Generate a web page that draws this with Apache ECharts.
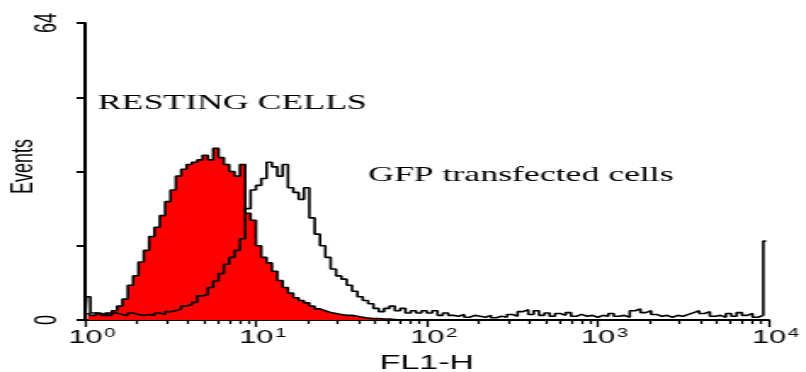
<!DOCTYPE html>
<html>
<head>
<meta charset="utf-8">
<script src="https://cdn.jsdelivr.net/npm/echarts@6/dist/echarts.min.js"></script>
<style>
  html, body { margin: 0; padding: 0; background: #fff; overflow: hidden; }
  #wrap { width: 806px; height: 372px; overflow: hidden; }
  /* the plot is laid out narrow and widened horizontally, like the cytometer printout */
  #chart { width: 474px; height: 372px; transform: scaleX(1.70042); transform-origin: 0 0; }
</style>
</head>
<body>
<div id="wrap"><div id="chart"></div></div>
<script>
// FL1-H histogram: 4 log decades, 32 bins per decade
const binsPerDecade = 32;

// events per bin, resting cells (filled red)
const restingCounts = [
  1.5, 1.0, 1.5, 1.0, 1.5, 2.0, 3.0, 4.5, 7.5, 9.5,
  12.5, 15.0, 18.0, 20.0, 22.5, 25.5, 28.0, 31.0, 32.5, 33.5,
  34.0, 34.5, 35.5, 34.5, 37.0, 35.0, 33.5, 32.0, 31.0, 33.5,
  23.0, 21.5, 16.0, 13.5, 12.3, 10.5, 8.5, 7.0, 5.8, 4.8,
  4.2, 3.7, 3.0, 2.4, 2.0, 1.6, 1.4, 1.2, 1.0, 1.0,
  0.8, 0.6, 0.4, 0.3, 0.3, 0.2, 0.2, 0.1, 0, 0,
  0, 0, 0, 0
];

// events per bin, GFP transfected cells (open outline)
const gfpCounts = [
  5.0, 1.5, 1.2, 1.5, 1.0, 1.5, 1.2, 1.0, 1.5, 1.2,
  1.0, 1.2, 1.0, 1.5, 1.2, 1.8, 2.0, 2.4, 3.0, 3.3,
  3.8, 5.2, 5.5, 7.0, 8.4, 10.0, 12.0, 13.5, 15.0, 17.5,
  24.0, 28.0, 29.0, 30.5, 34.0, 33.0, 31.0, 33.5, 28.5, 27.5,
  26.0, 28.5, 22.0, 18.5, 16.0, 13.5, 11.0, 9.5, 8.8, 7.5,
  6.2, 5.0, 4.2, 3.5, 2.5, 1.8, 2.5, 3.0, 2.0, 2.5,
  1.5, 2.0, 1.5, 2.0, 1.5, 2.0, 1.0, 1.5, 1.0, 0.8,
  1.2, 0.6, 1.0, 0.8, 0.6, 1.0, 0.5, 0.8, 0.6, 1.2,
  0.8, 1.8, 2.2, 1.2, 2.0, 1.0, 1.5, 0.8, 1.4, 1.0,
  1.6, 0.8, 1.2, 0.8, 1.0, 0.6, 1.0, 0.8, 1.4, 0.8,
  1.0, 0.6, 2.0, 2.4, 1.6, 2.0, 1.2, 0.8, 1.0, 0.6,
  1.0, 0.8, 1.2, 1.6, 2.0, 1.4, 1.8, 0.8, 1.0, 0.6,
  1.4, 0.8, 1.6, 1.0, 1.4, 0.6, 1.0, 17.0
];

const decadeTicks = [1, 10, 100, 1000, 10000];
const decadeExponents = ['0', '1', '2', '3', '4'];
const minorTicks = [
  2, 3, 4, 5, 6, 7, 8, 9,
  20, 30, 40, 50, 60, 70, 80, 90,
  200, 300, 400, 500, 600, 700, 800, 900,
  2000, 3000, 4000, 5000, 6000, 7000, 8000, 9000
];
const yMin = 0, yMax = 64, yStep = 16;
const yLabelValues = [0, 64];

const annotations = ['RESTING CELLS', 'GFP transfected cells'];

function binCenter(i) {
  return Math.pow(10, (i + 0.5) / binsPerDecade);
}

const restingData = restingCounts.map((c, i) => [binCenter(i), c]);
const gfpData = [[1, 0]].concat(gfpCounts.map((c, i) => [binCenter(i), c]));

const sans = '"Liberation Sans", Arial, sans-serif';
const serif = '"Liberation Serif", "Times New Roman", serif';

const chart = echarts.init(document.getElementById('chart'), null, { renderer: 'canvas' });

chart.setOption({
  animation: false,
  backgroundColor: '#fff',
  grid: { left: 50, right: 22, top: 23, bottom: 52, containLabel: false, outerBoundsMode: 'none' },
  xAxis: [
    {
      type: 'log',
      logBase: 10,
      min: 1,
      max: 10000,
      name: 'FL1-H',
      nameLocation: 'middle',
      nameGap: 33,
      nameMoveOverlap: false,
      nameTextStyle: { fontFamily: sans, fontSize: 20, color: '#000', verticalAlign: 'top' },
      axisLine: { show: true, onZero: false, lineStyle: { color: '#000', width: 2 } },
      axisTick: { show: true, inside: false, length: 7, customValues: decadeTicks,
                  lineStyle: { color: '#000', width: 1.3 } },
      axisLabel: {
        customValues: decadeTicks,
        margin: 8,
        padding: [0, 0, 0, 8],
        formatter: function (v) {
          const k = Math.round(Math.log10(v));
          return '{b|10}{s|' + decadeExponents[k] + '}';
        },
        rich: {
          b: { fontFamily: sans, fontSize: 18, color: '#000', lineHeight: 20 },
          s: { fontFamily: sans, fontSize: 12, color: '#000', lineHeight: 12,
               verticalAlign: 'top', padding: [0, 0, 0, 1] }
        }
      },
      splitLine: { show: false },
      minorTick: { show: false }
    },
    {
      type: 'log',
      logBase: 10,
      min: 1,
      max: 10000,
      position: 'bottom',
      axisLine: { show: false },
      axisTick: { show: true, inside: false, length: 4, customValues: minorTicks,
                  lineStyle: { color: '#000', width: 1.3 } },
      axisLabel: { show: false },
      splitLine: { show: false }
    }
  ],
  yAxis: {
    type: 'value',
    min: yMin,
    max: yMax,
    interval: yStep,
    name: 'Events',
    nameLocation: 'middle',
    nameRotate: 90,
    nameGap: 27,
    nameMoveOverlap: false,
    nameTextStyle: { fontFamily: sans, fontSize: 18, color: '#000', padding: [0, 0, 0, 10] },
    axisLine: { show: true, lineStyle: { color: '#000', width: 2 } },
    axisTick: { show: true, inside: false, length: 5, lineStyle: { color: '#000', width: 2 } },
    axisLabel: { customValues: yLabelValues, rotate: 90, margin: 13,
                 fontFamily: sans, fontSize: 18, color: '#000' },
    splitLine: { show: false }
  },
  series: [
    {
      name: annotations[0],
      type: 'line',
      xAxisIndex: 0,
      data: restingData,
      step: 'middle',
      symbol: 'none',
      silent: true,
      z: 2,
      lineStyle: { color: '#000', width: 1.6 },
      areaStyle: { color: '#ff0000', opacity: 1 }
    },
    {
      name: annotations[1],
      type: 'line',
      xAxisIndex: 0,
      data: gfpData,
      step: 'middle',
      symbol: 'none',
      silent: true,
      z: 3,
      lineStyle: { color: '#000', width: 1.6 }
    }
  ],
  graphic: [
    { type: 'text', x: 57.6, y: 103,
      style: { text: annotations[0], font: '21px ' + serif, fill: '#000', verticalAlign: 'middle' } },
    { type: 'text', x: 216.5, y: 175,
      style: { text: annotations[1], font: '21px ' + serif, fill: '#000', verticalAlign: 'middle' } }
  ]
});
</script>
</body>
</html>
